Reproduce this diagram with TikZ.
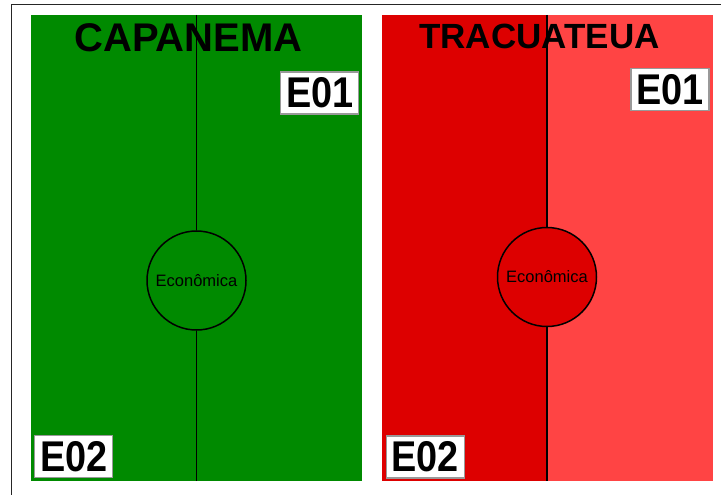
\documentclass[tikz,border=0pt]{standalone}
\usepackage{fontspec}
\setmainfont{Liberation Sans}
\usepackage{graphicx}
\definecolor{capgreen}{HTML}{008A00}
\definecolor{tradark}{HTML}{DD0000}
\definecolor{tralight}{HTML}{FF4444}
\definecolor{boxgray}{HTML}{999999}
\begin{document}
\begin{tikzpicture}[x=1pt,y=-1pt,
  title/.style={anchor=base,inner sep=0pt,font=\fontsize{40}{40}\selectfont\bfseries},
  ebox/.style={draw=boxgray,line width=1.2pt,fill=white,minimum width=78pt,minimum height=42pt,inner sep=0pt,
    font=\fontsize{43}{43}\selectfont\bfseries},
  econ/.style={circle,draw=black,line width=1.5pt,minimum size=99pt,inner sep=0pt,font=\fontsize{16.5}{17}\selectfont},
  axis/.style={draw=black,line width=1.6pt}]
\useasboundingbox (0,0) rectangle (721,495);
% outer frame
\draw[line width=1pt,black!85] (11.5,495) -- (11.5,4.5) -- (721,4.5);
% panels
\fill[capgreen] (31,15) rectangle (362,481);
\fill[tradark] (382,15) rectangle (547,481);
\fill[tralight] (547,15) rectangle (713,481);
% titles
\node[title] (t1) at (188.5,52) {CAPANEMA};
\node[title,font=\fontsize{35}{35}\selectfont\bfseries] (t2) at (539.5,49) {TRACUATEUA};
% circles
\node[econ,fill=capgreen] (c1) at (196.5,280.5) {Econômica};
\node[econ,fill=tradark] (c2) at (547,277) {Econômica};
% axes
\coordinate (g1top) at (196.5,15);
\coordinate (g1bot) at (196.5,481);
\coordinate (r1top) at (547,15);
\coordinate (r1bot) at (547,481);
\draw[axis] (g1top) -- (c1.north);
\draw[axis] (c1.south) -- (g1bot);
\draw[axis] (r1top) -- (c2.north);
\draw[axis] (c2.south) -- (r1bot);
% E boxes
\node[ebox] (ge1) at (319.7,93) {\scalebox{0.88}[1]{E01}};
\node[ebox] (re1) at (670,89.5) {\scalebox{0.88}[1]{E01}};
\node[ebox] (ge2) at (73.8,456.7) {\scalebox{0.88}[1]{E02}};
\node[ebox] (re2) at (425.3,457) {\scalebox{0.88}[1]{E02}};
\end{tikzpicture}
\end{document}
